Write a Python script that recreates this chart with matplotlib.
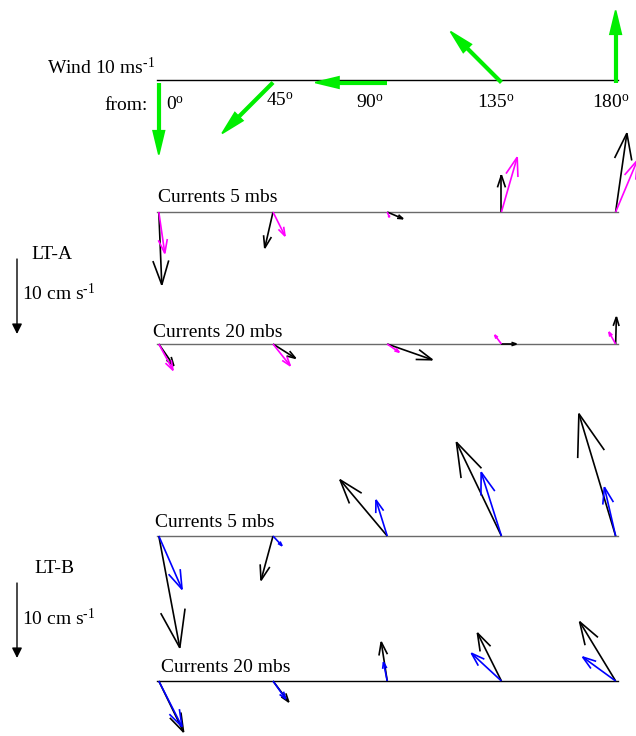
import numpy as np
import matplotlib
matplotlib.use("Agg")
import matplotlib.pyplot as plt
from matplotlib.patches import FancyArrowPatch

plt.rcParams["font.family"] = ["Liberation Serif", "DejaVu Serif"]
plt.rcParams["mathtext.fontset"] = "custom"
plt.rcParams["mathtext.rm"] = "Liberation Serif"
plt.rcParams["mathtext.it"] = "Liberation Serif:italic"
plt.rcParams["mathtext.bf"] = "Liberation Serif:bold"

# ---------------------------------------------------------------- data
wind_from = [0, 45, 90, 135, 180]          # wind direction (deg, "from")
wind_speed = [10, 10, 10, 10, 10]          # m s-1
dir_labels = ["0", "45", "90", "135", "180"]

# currents (cm s-1): u = eastward, v = northward
# LT-A, 5 m above bottom
lta5_u1 = [0.4, -1.1, 2.1, 0.0, 1.5]
lta5_v1 = [-9.7, -4.8, -0.9, 4.9, 10.5]
lta5_u2 = [0.8, 1.6, 0.3, 2.1, 2.9]
lta5_v2 = [-5.5, -3.2, -0.7, 7.3, 6.9]
# LT-A, 20 m above bottom
lta20_u1 = [2.0, 3.0, 6.0, 2.0, 0.1]
lta20_v1 = [-2.9, -1.9, -2.1, 0.0, 3.6]
lta20_u2 = [1.9, 2.3, 1.6, -0.9, -0.9]
lta20_v2 = [-3.5, -2.9, -1.1, 1.2, 1.6]
# LT-B, 5 m above bottom
ltb5_u1 = [2.8, -1.6, -6.3, -6.0, -4.9]
ltb5_v1 = [-14.9, -5.9, 7.5, 12.5, 16.3]
ltb5_u2 = [3.1, 1.2, -1.5, -2.7, -1.5]
ltb5_v2 = [-7.1, -1.3, 4.8, 8.5, 6.5]
# LT-B, 20 m above bottom
ltb20_u1 = [3.3, 2.1, -0.8, -3.2, -4.8]
ltb20_v1 = [-6.8, -2.8, 5.2, 6.4, 7.9]
ltb20_u2 = [3.1, 1.7, -0.5, -4.0, -4.4]
ltb20_v2 = [-6.1, -2.4, 2.5, 3.7, 3.2]

scale_ref = 10  # reference arrow, cm s-1

# ---------------------------------------------------------------- layout
W, H = 636, 736
X0, KX = 158.8, 2.538          # x position of a direction (deg -> px)
CUR_SCALE = 7.5                # px per cm s-1
WIND_SCALE = 7.2               # px per m s-1

GREEN = "#00ee00"
MAGENTA = "#ff00ff"
BLUE = "#0000ff"

fig = plt.figure(figsize=(W / 100, H / 100), dpi=100)
ax = fig.add_axes([0, 0, 1, 1])
ax.set_xlim(0, W)
ax.set_ylim(H, 0)
ax.axis("off")


def xpos(deg):
    return X0 + KX * np.asarray(deg, dtype=float)


def quiver_arrow(x0, y0, u, v, scale, color, lw, alpha=0.33, beta=0.33,
                 z=3, filled=False):
    """Arrow with a two-barb head sized relative to its length."""
    dx, dy = u * scale, -v * scale
    x1, y1 = x0 + dx, y0 + dy
    kw = dict(color=color, lw=lw, solid_capstyle="butt",
              solid_joinstyle="miter", zorder=z)
    hx = [x1 - alpha * (dx + beta * dy), x1, x1 - alpha * (dx - beta * dy)]
    hy = [y1 - alpha * (dy - beta * dx), y1, y1 - alpha * (dy + beta * dx)]
    if filled:
        # stop the shaft at the back of the head so the point stays sharp
        xs, ys = x1 - alpha * dx, y1 - alpha * dy
        ax.plot([x0, xs], [y0, ys], **kw)
        ax.fill(hx, hy, color=color, lw=lw * 0.4, zorder=z)
    else:
        ax.plot([x0, x1], [y0, y1], **kw)
        ax.plot(hx, hy, **kw)


def baseline(y, color):
    ax.plot([xpos(0) - 2, xpos(180) + 2], [y, y], color=color, lw=1.0, zorder=1)


FS = 14

# ---- wind row
wind_y = 79.5
baseline(wind_y, "black")
ax.text(47, 74, r"Wind 10 ms$^{\text{-1}}$", fontsize=FS, ha="left", va="baseline")
ax.text(104, 110, "from:", fontsize=FS, ha="left", va="baseline")
label_x = [166, 266, 356, 477, 592]
label_y = [110, 106, 108, 108, 108]
for lab, lx, ly in zip(dir_labels, label_x, label_y):
    ax.text(lx, ly, lab + r"$^{\mathrm{o}}$", fontsize=FS, ha="left", va="baseline")

wd = np.radians(wind_from)
wu = -np.asarray(wind_speed) * np.sin(wd)
wv = -np.asarray(wind_speed) * np.cos(wd)
for xb, u, v in zip(xpos(wind_from), wu, wv):
    quiver_arrow(xb, wind_y + 3, u, v, WIND_SCALE, GREEN, 3.0,
                 beta=0.24, z=4, filled=True)

# ---- current rows
rows = [
    # baseline y, label x, label y, text, u1, v1, u2, v2, colour, line colour
    (212, 158, 202.3, "Currents 5 mbs", lta5_u1, lta5_v1, lta5_u2, lta5_v2, MAGENTA, "#6a6a6a"),
    (344, 153, 336.7, "Currents 20 mbs", lta20_u1, lta20_v1, lta20_u2, lta20_v2, MAGENTA, "#6a6a6a"),
    (536, 155, 526.7, "Currents 5 mbs", ltb5_u1, ltb5_v1, ltb5_u2, ltb5_v2, BLUE, "#6a6a6a"),
    (681, 161, 671.7, "Currents 20 mbs", ltb20_u1, ltb20_v1, ltb20_u2, ltb20_v2, BLUE, "black"),
]
for yb, tx, ty, txt, u1, v1, u2, v2, col, lcol in rows:
    baseline(yb, lcol)
    ax.text(tx, ty, txt, fontsize=FS, ha="left", va="baseline")
    for xb, u, v in zip(xpos(wind_from), u1, v1):
        quiver_arrow(xb, yb, u, v, CUR_SCALE, "black", 1.2, z=3)
    for xb, u, v in zip(xpos(wind_from), u2, v2):
        quiver_arrow(xb, yb, u, v, CUR_SCALE, col, 1.2, z=4)

# ---- site labels with reference arrows
sites = [("LT-A", 31, 259.3, 300, 259), ("LT-B", 34, 572.7, 625, 583)]
for name, nx, ny, sy, ay in sites:
    ax.text(nx, ny, name, fontsize=FS, ha="left", va="baseline")
    ax.text(22, sy, r"10 cm s$^{\text{-1}}$", fontsize=FS, ha="left", va="baseline")
    ax.add_patch(FancyArrowPatch((17, ay), (17, ay + scale_ref * CUR_SCALE),
                                 arrowstyle="-|>,head_length=6,head_width=3",
                                 mutation_scale=1, lw=1.0, color="black",
                                 shrinkA=0, shrinkB=0))

fig.savefig("out.png", dpi=100)
